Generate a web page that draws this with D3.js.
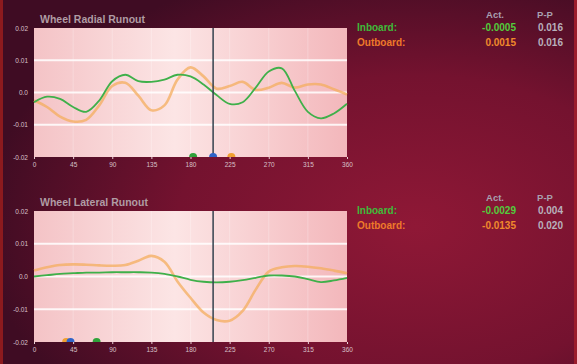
<!DOCTYPE html>
<html>
<head>
<meta charset="utf-8">
<script src="https://cdn.jsdelivr.net/npm/d3@7"></script>
<style>
  body { margin: 0; background: #4a0e26; }
  svg { display: block; font-family: "Liberation Sans", Arial, sans-serif; }
</style>
</head>
<body>
<svg class="chart"></svg>
<script>
// angle positions (degrees) for every sample
var degrees = d3.range(0, 361, 15);

// Wheel Radial Runout
var radialInboard = [-0.003, -0.0013, -0.002, -0.0045, -0.006, -0.0025, 0.0035, 0.0055, 0.0035, 0.0033,
  0.004, 0.0055, 0.005, 0.0025, -0.0008, -0.0035, -0.003, 0.0015, 0.0065, 0.0075, 0.0005, -0.006,
  -0.008, -0.0065, -0.0035];
var radialOutboard = [-0.0025, -0.0045, -0.0075, -0.009, -0.0085, -0.004, 0.002, 0.003, -0.001, -0.0055,
  -0.004, 0.004, 0.0078, 0.005, 0.0012, 0.002, 0.0033, 0.0008, 0.0015, 0.003, 0.0015, 0.0025,
  0.0025, 0.001, -0.0006];

// Wheel Lateral Runout
var lateralInboard = [0, 0.0004, 0.0008, 0.001, 0.0012, 0.0012, 0.0013, 0.0013, 0.0013, 0.0012,
  0.0008, 0, -0.001, -0.0016, -0.0018, -0.0016, -0.0011, -0.0004, 0.0003, 0.0003, 0, -0.0008,
  -0.0017, -0.0012, -0.0004];
var lateralOutboard = [0.0018, 0.0028, 0.0035, 0.0037, 0.0036, 0.0034, 0.0033, 0.0035, 0.0048, 0.0063,
  0.0045, -0.0015, -0.0065, -0.011, -0.0133, -0.0135, -0.0105, -0.004, 0.0015, 0.0028, 0.0032,
  0.003, 0.0025, 0.0018, 0.001];

var xTicks = [0, 45, 90, 135, 180, 225, 270, 315, 360];
var yTicks = [0.02, 0.01, 0, -0.01, -0.02];
var yTickLabels = ["0.02", "0.01", "0.0", "-0.01", "-0.02"];

var cursorDeg = 206;
var radialMarkers = [{deg: 183, c: "green"}, {deg: 206, c: "blue"}, {deg: 227, c: "orange"}];
var lateralMarkers = [{deg: 37, c: "orange"}, {deg: 42, c: "blue"}, {deg: 72, c: "green"}];

var radialTable = {act: ["-0.0005", "0.0015"], pp: ["0.016", "0.016"]};
var lateralTable = {act: ["-0.0029", "-0.0135"], pp: ["0.004", "0.020"]};

var W = 577, H = 364;
var GREEN = "#3fb04a", ORANGE = "#f4ad5e", BLUE = "#2f63c8";
var markerColor = {green: "#2fa23a", blue: BLUE, orange: "#f0a030"};

var svg = d3.select(".chart").attr("width", W).attr("height", H);
var defs = svg.append("defs");

var bg = defs.append("radialGradient").attr("id", "bg")
  .attr("cx", 0.72).attr("cy", 0.62).attr("r", 0.75);
bg.append("stop").attr("offset", "0%").attr("stop-color", "#8f1836");
bg.append("stop").attr("offset", "55%").attr("stop-color", "#74122f");
bg.append("stop").attr("offset", "100%").attr("stop-color", "#3f0c23");

var pg = defs.append("linearGradient").attr("id", "plotbg").attr("x1", 0).attr("x2", 1);
pg.append("stop").attr("offset", "0%").attr("stop-color", "#f4c3c6");
pg.append("stop").attr("offset", "45%").attr("stop-color", "#fce5e5");
pg.append("stop").attr("offset", "100%").attr("stop-color", "#f3b7bb");

svg.append("rect").attr("width", W).attr("height", H).attr("fill", "url(#bg)");
svg.append("rect").attr("x", 0).attr("width", 3).attr("height", H).attr("fill", "#8c1a1e");
svg.append("rect").attr("x", W - 3).attr("width", 3).attr("height", H).attr("fill", "#9a1c2c");

function panel(opt) {
  var x = d3.scaleLinear().domain([0, 360]).range([34, 347]);
  var y = d3.scaleLinear().domain([-0.02, 0.02]).range([opt.bottom, opt.top]);
  var g = svg.append("g");

  g.append("rect").attr("x", x(0)).attr("y", y(0.02))
    .attr("width", x(360) - x(0)).attr("height", y(-0.02) - y(0.02))
    .attr("fill", "url(#plotbg)");

  // faint vertical bands
  g.selectAll("line.v").data(xTicks.slice(1, -1)).enter().append("line")
    .attr("x1", x).attr("x2", x).attr("y1", y(0.02)).attr("y2", y(-0.02))
    .attr("stroke", "#fff").attr("stroke-opacity", 0.25).attr("stroke-width", 1);

  // horizontal grid
  g.selectAll("line.h").data([0.01, 0, -0.01]).enter().append("line")
    .attr("x1", x(0)).attr("x2", x(360)).attr("y1", y).attr("y2", y)
    .attr("stroke", "#fff").attr("stroke-opacity", 0.85).attr("stroke-width", 2);

  var line = d3.line().x(function(d, i) { return x(degrees[i]); })
    .y(function(d) { return y(d); }).curve(d3.curveCatmullRom);

  g.append("path").attr("d", line(opt.outboard)).attr("fill", "none")
    .attr("stroke", ORANGE).attr("stroke-width", 2.6).attr("stroke-opacity", 0.75);
  g.append("path").attr("d", line(opt.inboard)).attr("fill", "none")
    .attr("stroke", GREEN).attr("stroke-width", 1.8);

  // cursor
  g.append("line").attr("x1", x(cursorDeg)).attr("x2", x(cursorDeg))
    .attr("y1", y(0.02)).attr("y2", y(-0.02))
    .attr("stroke", "#34424e").attr("stroke-width", 1.5);

  // markers on baseline
  g.selectAll("path.m").data(opt.markers).enter().append("path")
    .attr("d", function(d) {
      var cx = x(d.deg), by = y(-0.02);
      return "M" + (cx - 4) + "," + by + "A4,4 0 0 1 " + (cx + 4) + "," + by + "Z";
    })
    .attr("fill", function(d) { return markerColor[d.c]; });

  // axes labels
  var xa = g.append("g").attr("transform", "translate(0," + y(-0.02) + ")")
    .call(d3.axisBottom(x).tickValues(xTicks).tickSize(2).tickPadding(3));
  xa.select(".domain").remove();
  xa.selectAll("line").attr("stroke", "#e8d0d6");
  xa.selectAll("text").attr("fill", "#d8c0c8").attr("font-size", 6.5).attr("font-family", "Liberation Sans, Arial");

  var ya = g.append("g").attr("transform", "translate(" + x(0) + ",0)")
    .call(d3.axisLeft(y).tickValues(yTicks).tickSize(0).tickPadding(6)
      .tickFormat(function(d, i) { return yTickLabels[i]; }));
  ya.select(".domain").remove();
  ya.selectAll("text").attr("fill", "#d8c0c8").attr("font-size", 6.5).attr("font-family", "Liberation Sans, Arial");

  g.append("text").attr("x", 40).attr("y", opt.top - 5).text(opt.title)
    .attr("fill", "#b09ca4").attr("font-size", 10.5).attr("font-weight", "bold");

  // readout table
  var ty = opt.top - 10;
  g.append("text").attr("x", 495).attr("y", ty).attr("text-anchor", "middle").text("Act.")
    .attr("fill", "#a8a0b0").attr("font-size", 9.5).attr("font-weight", "bold");
  g.append("text").attr("x", 545).attr("y", ty).attr("text-anchor", "middle").text("P-P")
    .attr("fill", "#a8a0b0").attr("font-size", 9.5).attr("font-weight", "bold");
  var rows = [{label: "Inboard:", c: "#3fbb3a", act: opt.table.act[0], pp: opt.table.pp[0]},
              {label: "Outboard:", c: "#ee7a2a", act: opt.table.act[1], pp: opt.table.pp[1]}];
  rows.forEach(function(r, i) {
    var ry = opt.top + 3 + i * 15;
    g.append("text").attr("x", 357).attr("y", ry).text(r.label)
      .attr("fill", r.c).attr("font-size", 10).attr("font-weight", "bold");
    g.append("text").attr("x", 516).attr("y", ry).attr("text-anchor", "end").text(r.act)
      .attr("fill", i === 0 ? "#52cc3c" : "#f08a2c").attr("font-size", 10).attr("font-weight", "bold");
    g.append("text").attr("x", 563).attr("y", ry).attr("text-anchor", "end").text(r.pp)
      .attr("fill", "#b8b0bc").attr("font-size", 10).attr("font-weight", "bold");
  });
}

panel({title: "Wheel Radial Runout", top: 28, bottom: 157,
  inboard: radialInboard, outboard: radialOutboard, markers: radialMarkers, table: radialTable});
panel({title: "Wheel Lateral Runout", top: 211, bottom: 342,
  inboard: lateralInboard, outboard: lateralOutboard, markers: lateralMarkers, table: lateralTable});
</script>
</body>
</html>
